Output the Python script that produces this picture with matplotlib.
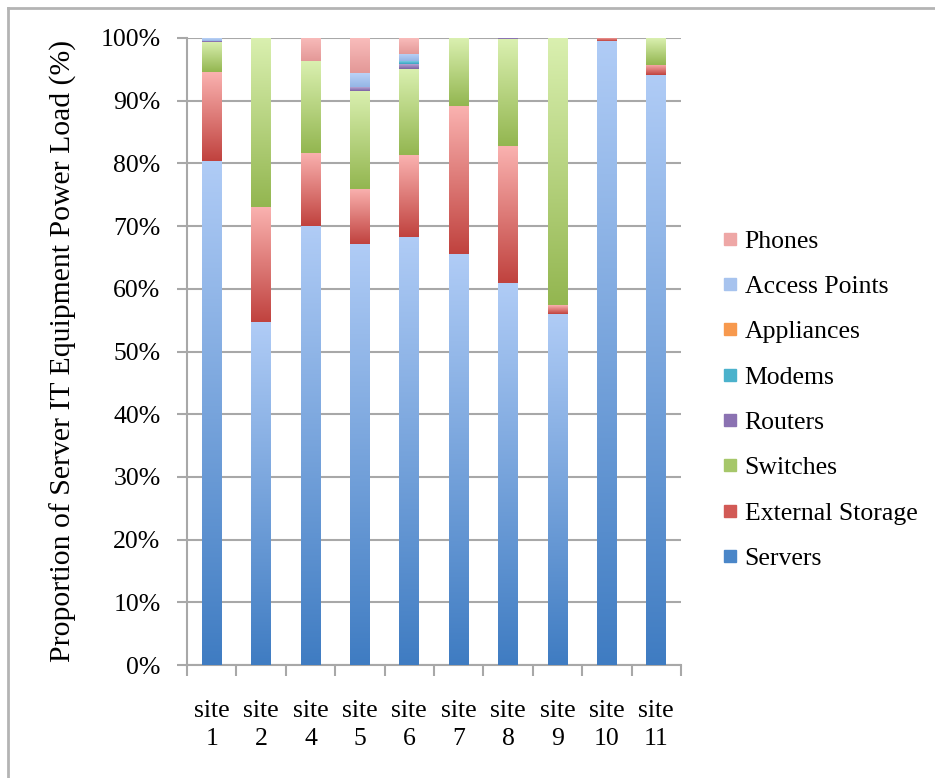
import numpy as np
import matplotlib
matplotlib.use('Agg')
import matplotlib.pyplot as plt
from matplotlib.colors import LinearSegmentedColormap
from matplotlib.lines import Line2D

# data (percent of server IT power load)
sites = ['site\n1', 'site\n2', 'site\n4', 'site\n5', 'site\n6',
         'site\n7', 'site\n8', 'site\n9', 'site\n10', 'site\n11']
servers = [80.4, 54.7, 70.0, 67.1, 68.3, 65.6, 61.0, 56.0, 99.5, 94.1]
ext_storage = [14.1, 18.3, 11.7, 8.8, 13.0, 23.6, 21.8, 1.4, 0.5, 1.6]
switches = [4.9, 27.0, 14.6, 15.7, 13.8, 10.8, 17.0, 42.6, 0.0, 4.3]
routers = [0.2, 0.0, 0.0, 0.6, 0.7, 0.0, 0.2, 0.0, 0.0, 0.0]
modems = [0.0, 0.0, 0.0, 0.0, 0.5, 0.0, 0.0, 0.0, 0.0, 0.0]
appliances = [0.0, 0.0, 0.0, 0.0, 0.0, 0.0, 0.0, 0.0, 0.0, 0.0]
access_points = [0.4, 0.0, 0.0, 2.2, 1.2, 0.0, 0.0, 0.0, 0.0, 0.0]
phones = [0.0, 0.0, 3.7, 5.5, 2.4, 0.0, 0.0, 0.0, 0.0, 0.0]

# name, values, bottom colour, top colour (excel-like vertical gradient)
series = [
    ('Servers', servers, '#3f7cc2', '#b0ccf6'),
    ('External Storage', ext_storage, '#c0423e', '#fab2b0'),
    ('Switches', switches, '#93b650', '#daf0b0'),
    ('Routers', routers, '#7b61a4', '#b6a4d2'),
    ('Modems', modems, '#36a3c1', '#90d8ec'),
    ('Appliances', appliances, '#f38b38', '#fcc297'),
    ('Access Points', access_points, '#94b5e6', '#bcd3f6'),
    ('Phones', phones, '#e39897', '#f9bcbb'),
]
legend_cols = {'Servers': '#4a86c8', 'External Storage': '#d25a56',
               'Switches': '#a6c76a', 'Routers': '#8b72b2',
               'Modems': '#4bb2cc', 'Appliances': '#f7994e',
               'Access Points': '#a7c3ee', 'Phones': '#eea7a6'}

plt.rcParams['font.family'] = ['Liberation Serif', 'DejaVu Serif']
fs = 18.5
grid_col = '#a8a8a8'

fig = plt.figure(figsize=(9.35, 7.78), dpi=100)
ax = fig.add_axes([187/935, 1-665/778, (681-187)/935, (665-38)/778])

x = np.arange(len(sites))
bottom = np.zeros(len(sites))
grad = np.linspace(0, 1, 256).reshape(-1, 1)
handles = []
for name, vals, c0, c1 in series:
    vals = np.array(vals)
    bars = ax.bar(x, vals, 0.4, bottom=bottom, color=c0, linewidth=0, zorder=2)
    cmap = LinearSegmentedColormap.from_list(name, [c0, c1])
    for b in bars:
        if b.get_height() <= 0:
            continue
        bx, by = b.get_x(), b.get_y()
        ax.imshow(grad, cmap=cmap, origin='lower', aspect='auto',
                  extent=[bx, bx + b.get_width(), by, by + b.get_height()],
                  zorder=3, interpolation='bilinear')
    bottom += vals
    handles.append(Line2D([], [], marker='s', linestyle='none',
                          color=legend_cols[name], markersize=9, label=name))

ax.set_xlim(-0.5, len(sites) - 0.5)
ax.set_ylim(0, 100)
ax.set_yticks(np.arange(0, 101, 10))
ax.set_yticklabels([f'{v}%' for v in range(0, 101, 10)], fontsize=fs)
ax.set_xticks(x)
ax.set_xticklabels(sites, fontsize=fs, linespacing=1.35)
ax.set_xticks(np.arange(-0.5, len(sites), 1), minor=True)
ax.tick_params(axis='x', which='major', length=0, pad=25)
ax.tick_params(axis='x', which='minor', length=8, width=1.5, color=grid_col)
ax.tick_params(axis='y', length=7, width=1.5, color=grid_col, pad=12)
ax.yaxis.grid(True, color=grid_col, lw=1.5)
ax.set_axisbelow(True)
for s in ['top', 'right']:
    ax.spines[s].set_visible(False)
for s in ['left', 'bottom']:
    ax.spines[s].set_color(grid_col)
    ax.spines[s].set_linewidth(1.5)

ax.set_ylabel('Proportion of Server IT Equipment Power Load (%)', fontsize=21.4)
ax.yaxis.set_label_coords(-0.222, 0.5)

ax.legend(handles=handles[::-1], loc='center left', bbox_to_anchor=(0.7606, 0.486),
          bbox_transform=fig.transFigure, frameon=False, fontsize=fs,
          handlelength=0.5, handletextpad=0.3, labelspacing=0.87, borderpad=0)

# chart area frame (left and top edges visible)
fig.add_artist(Line2D([8/935, 8/935], [0, 1 - 8/778], transform=fig.transFigure,
                      color='#b4b4b4', lw=2))
fig.add_artist(Line2D([8/935, 1], [1 - 8/778, 1 - 8/778], transform=fig.transFigure,
                      color='#b4b4b4', lw=2))

fig.savefig('out.png', dpi=100)
